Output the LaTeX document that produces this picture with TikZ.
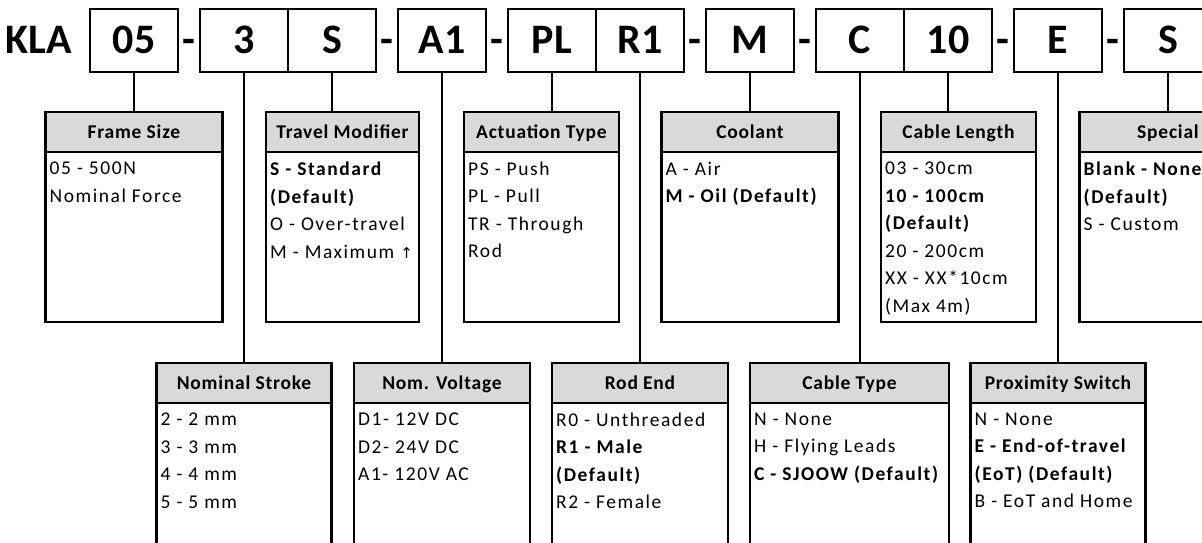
\documentclass[tikz,border=0pt]{standalone}
\usepackage{fontspec}
\setmainfont{Carlito}
\newfontfamily\arrowfont{DejaVu Sans}
\usepackage{xcolor}
\usepackage{tikz}
\usetikzlibrary{positioning}
\definecolor{hdrgray}{RGB}{217,217,217}

\begin{document}
\begin{tikzpicture}[
    x=1pt, y=-1pt,
    node distance=0pt,
    code/.style={draw, line width=2.8pt, outer sep=0pt, inner sep=0pt,
                 minimum width=88pt, minimum height=63pt,
                 text height=26.5pt, text depth=0pt,
                 font=\fontsize{42}{42}\selectfont\bfseries},
    sep/.style={code, draw=none, minimum width=22pt},
    hdr/.style={draw, line width=2.8pt, fill=hdrgray, outer sep=0pt,
                inner sep=0pt, minimum height=40pt,
                text height=12.3pt, text depth=0pt,
                font=\fontsize{19.5}{19.5}\selectfont\bfseries\addfontfeatures{LetterSpace=4}},
    body/.style={draw, line width=2.8pt, outer sep=0pt, minimum height=170pt},
    tall/.style={body, minimum height=200pt},
    txt/.style={anchor=north west, align=left, inner xsep=4pt, inner ysep=9.7pt,
                font=\fontsize{19.5}{27.5}\selectfont\addfontfeatures{LetterSpace=8}},
    link/.style={line width=2.5pt},
  ]
    \useasboundingbox (0,0) rectangle (1202,542);
    \clip (0,0) rectangle (1202,542);

    % ---- Part number: left to right ----
    \node[code] (c05) at (134,40.5) {05};
    \node[code, draw=none, left=7pt of c05] (kla) {KLA};
    \node[sep,  right=of c05] (s1) {-};
    \node[code, right=of s1]  (c3) {3};
    \node[code, right=of c3]  (cS) {S};
    \node[sep,  right=of cS]  (s2) {-};
    \node[code, right=of s2]  (cA1) {A1};
    \node[sep,  right=of cA1] (s3) {-};
    \node[code, right=of s3]  (cPL) {PL};
    \node[code, right=of cPL] (cR1) {R1};
    \node[sep,  right=of cR1] (s4) {-};
    \node[code, right=of s4]  (cM) {M};
    \node[sep,  right=of cM]  (s5) {-};
    \node[code, right=of s5]  (cC) {C};
    \node[code, right=of cC]  (c10) {10};
    \node[sep,  right=of c10] (s6) {-};
    \node[code, right=of s6]  (cE) {E};
    \node[sep,  right=of cE]  (s7) {-};
    \node[code, right=of s7]  (cSp) {S};

    % ---- Upper row of option boxes ----
    \node[hdr, minimum width=177pt, below=40pt of c05] (fsH) {Frame Size};
    \node[body, minimum width=177pt, below=of fsH,
          label={[txt]north west:{05 - 500N\\Nominal Force}}] (fsB) {};
    \node[hdr, minimum width=153pt, below=40pt of cS, xshift=10.5pt] (tmH) {Travel Modifier};
    \node[body, minimum width=153pt, below=of tmH,
          label={[txt]north west:{\textbf{S - Standard}\\\textbf{(Default)}\\O - Over-travel\\M - Maximum {\arrowfont\fontsize{15}{15}\selectfont↑}}}] (tmB) {};
    \node[hdr, minimum width=155pt, below=40pt of cPL, xshift=-10.5pt] (atH) {Actuation Type};
    \node[body, minimum width=155pt, below=of atH,
          label={[txt]north west:{PS - Push\\PL - Pull\\TR - Through\\Rod}}] (atB) {};
    \node[hdr, minimum width=177pt, below=40pt of cM] (coH) {Coolant};
    \node[body, minimum width=177pt, below=of coH,
          label={[txt]north west:{A - Air\\\textbf{M - Oil (Default)}}}] (coB) {};
    \node[hdr, minimum width=155pt, below=40pt of c10, xshift=10.5pt] (clH) {Cable Length};
    \node[body, minimum width=155pt, below=of clH,
          label={[txt]north west:{03 - 30cm\\\textbf{10 - 100cm}\\\textbf{(Default)}\\20 - 200cm\\XX - XX*10cm\\(Max 4m)}}] (clB) {};
    \node[hdr, minimum width=177pt, below=40pt of cSp] (spH) {Special};
    \node[body, minimum width=177pt, below=of spH,
          label={[txt]north west:{\textbf{Blank - None}\\\textbf{(Default)}\\S - Custom}}] (spB) {};

    % ---- Lower row of option boxes ----
    \node[hdr, minimum width=175pt, below=291pt of c3] (nsH) {Nominal Stroke};
    \node[tall, minimum width=175pt, below=of nsH,
          label={[txt]north west:{2 - 2 mm\\3 - 3 mm\\4 - 4 mm\\5 - 5 mm}}] (nsB) {};
    \node[hdr, minimum width=176pt, below=291pt of cA1] (nvH) {Nom. Voltage};
    \node[tall, minimum width=176pt, below=of nvH,
          label={[txt]north west:{D1- 12V DC\\D2- 24V DC\\A1- 120V AC}}] (nvB) {};
    \node[hdr, minimum width=176pt, below=291pt of cR1] (reH) {Rod End};
    \node[tall, minimum width=176pt, below=of reH,
          label={[txt]north west:{R0 - Unthreaded\\\textbf{R1 - Male}\\\textbf{(Default)}\\R2 - Female}}] (reB) {};
    \node[hdr, minimum width=199pt, below=291pt of cC, xshift=-10.5pt] (ctH) {Cable Type};
    \node[tall, minimum width=199pt, below=of ctH,
          label={[txt]north west:{N - None\\H - Flying Leads\\\textbf{C - SJOOW (Default)}}}] (ctB) {};
    \node[hdr, minimum width=175pt, below=291pt of cE] (pxH) {Proximity Switch};
    \node[tall, minimum width=175pt, below=of pxH,
          label={[txt]north west:{N - None\\\textbf{E - End-of-travel}\\\textbf{(EoT) (Default)}\\B - EoT and Home}}] (pxB) {};

    % ---- Leader lines ----
    \foreach \c/\h in {c05/fsH, c3/nsH, cS/tmH, cA1/nvH, cPL/atH, cR1/reH,
                       cM/coH, cC/ctH, c10/clH, cE/pxH, cSp/spH}
      \draw[link] (\c.south) -- (\c.south |- \h.north);
  \end{tikzpicture}
\end{document}
